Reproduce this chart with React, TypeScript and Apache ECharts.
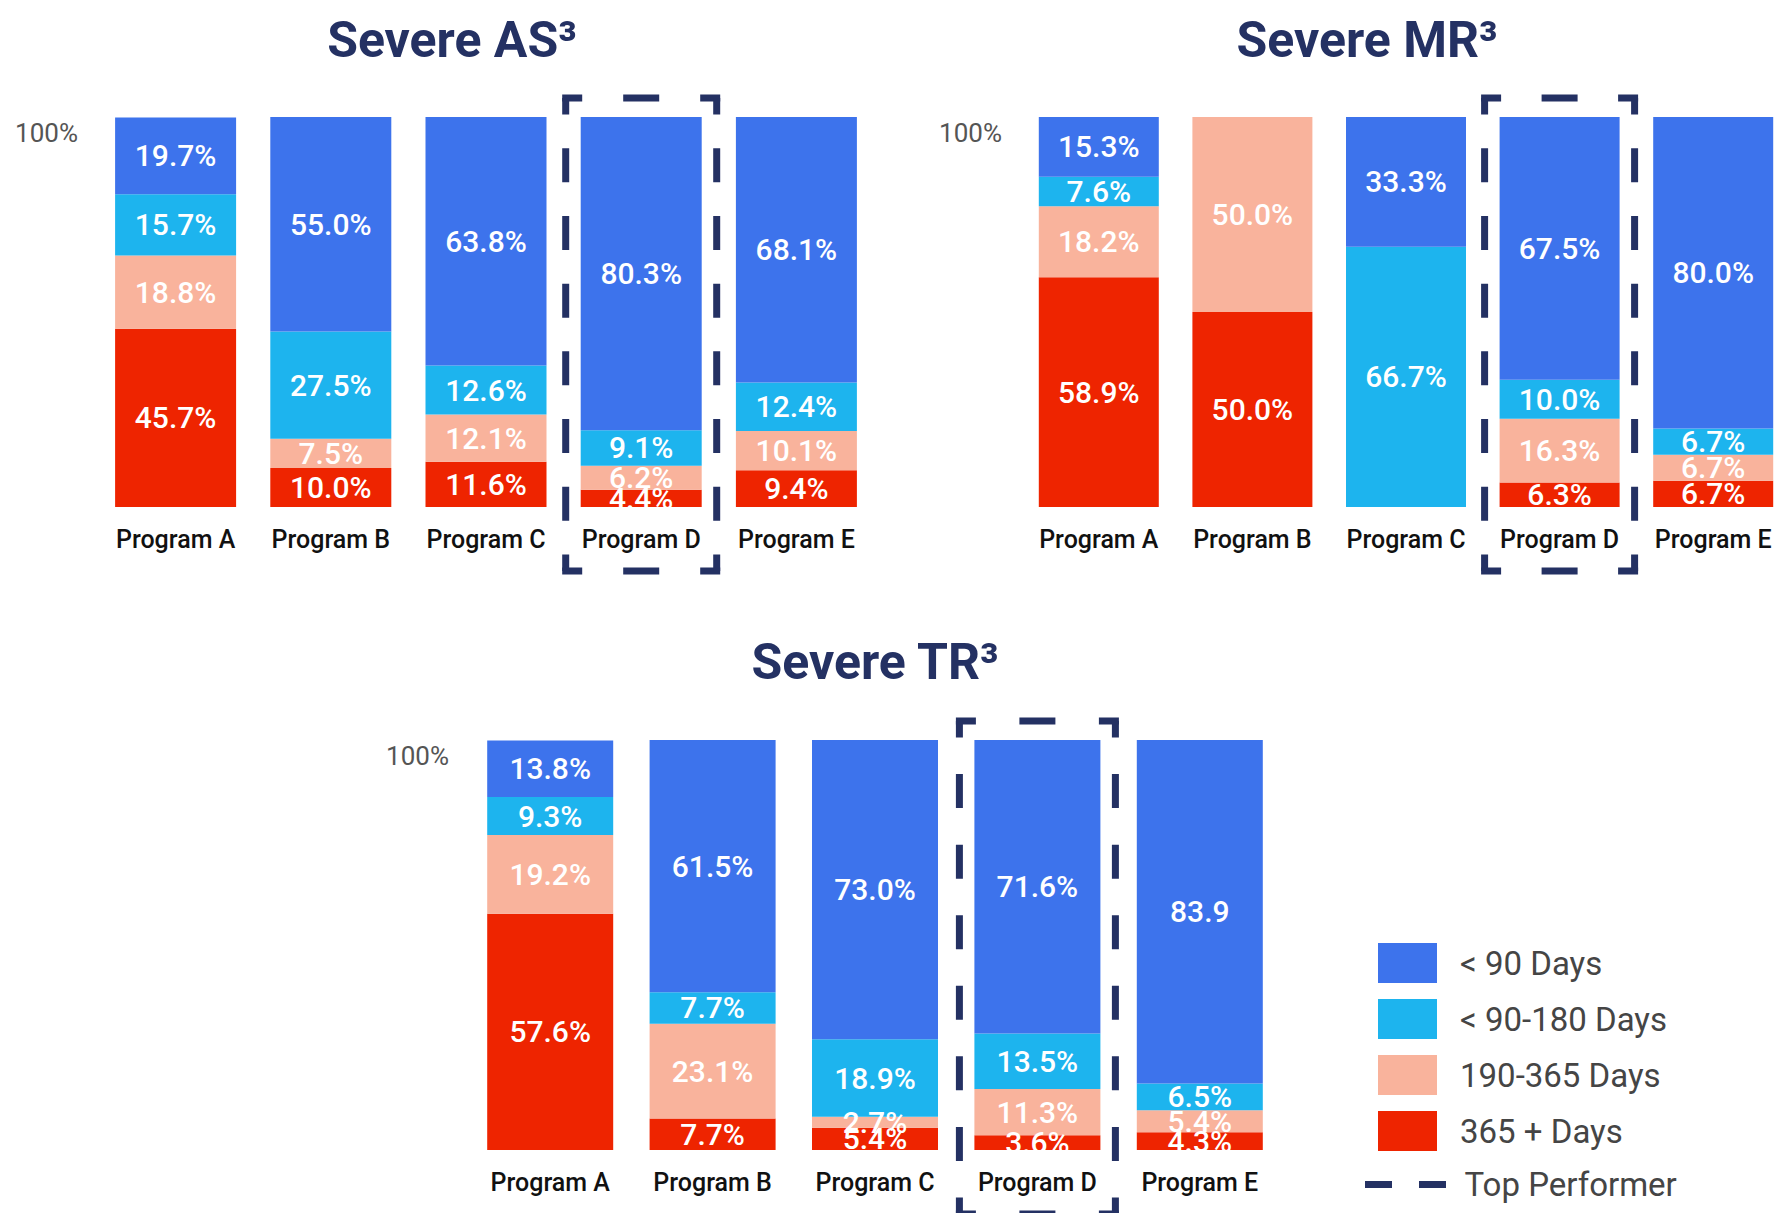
import React, { useEffect, useRef } from "react";
import * as echarts from "echarts";

// ---------- data ----------
const programs = ["Program A", "Program B", "Program C", "Program D", "Program E"];
const seriesNames = ["< 90 Days", "< 90-180 Days", "190-365 Days", "365 + Days"];
const colors = ["#3d73ec", "#1db4ee", "#f9b39c", "#ee2400"];
const titles = ["Severe AS³", "Severe MR³", "Severe TR³"];
const topPerformer = "Program D";
const topPerformerLabel = "Top Performer";

// Severe AS
const asLt90 = [19.7, 55.0, 63.8, 80.3, 68.1];
const as90to180 = [15.7, 27.5, 12.6, 9.1, 12.4];
const as190to365 = [18.8, 7.5, 12.1, 6.2, 10.1];
const as365plus = [45.7, 10.0, 11.6, 4.4, 9.4];

// Severe MR
const mrLt90 = [15.3, null, 33.3, 67.5, 80.0];
const mr90to180 = [7.6, null, 66.7, 10.0, 6.7];
const mr190to365 = [18.2, 50.0, null, 16.3, 6.7];
const mr365plus = [58.9, 50.0, null, 6.3, 6.7];

// Severe TR
const trLt90 = [13.8, 61.5, 73.0, 71.6, 83.9];
const tr90to180 = [9.3, 7.7, 18.9, 13.5, 6.5];
const tr190to365 = [19.2, 23.1, 2.7, 11.3, 5.4];
const tr365plus = [57.6, 7.7, 5.4, 3.6, 4.3];

const yMin = 0;
const yMax = 100;
// labels printed without a percent sign in the original
const labelsWithoutPercent = [{ panel: "tr", series: "< 90 Days", program: "Program E" }];

// ---------- layout / style ----------
const FONT = "Roboto, 'Noto Sans', sans-serif";
const NAVY = "#243163";

const panels = [
  {
    key: "as",
    title: titles[0],
    values: [asLt90, as90to180, as190to365, as365plus],
    grid: { left: 98, top: 117, width: 776, height: 390 },
    barWidth: 121,
    titleX: 452,
    titleY: 40,
  },
  {
    key: "mr",
    title: titles[1],
    values: [mrLt90, mr90to180, mr190to365, mr365plus],
    grid: { left: 1022, top: 117, width: 769, height: 390 },
    barWidth: 120,
    titleX: 1367,
    titleY: 40,
  },
  {
    key: "tr",
    title: titles[2],
    values: [trLt90, tr90to180, tr190to365, tr365plus],
    grid: { left: 469, top: 740, width: 812, height: 410 },
    barWidth: 126,
    titleX: 875,
    titleY: 662,
  },
];

function dashFor(len: number, corner: number, dash: number, gapTarget: number) {
  const inner = len - 2 * corner;
  const n = Math.max(0, Math.round((inner - gapTarget) / (dash + gapTarget)));
  const gap = (inner - n * dash) / (n + 1);
  const arr: number[] = [corner];
  for (let k = 0; k < n; k++) arr.push(gap, dash);
  arr.push(gap, corner, 10000);
  return arr;
}

export default function App() {
  const ref = useRef<HTMLDivElement>(null);

  useEffect(() => {
    if (!ref.current) return;
    const chart = echarts.init(ref.current, undefined, { renderer: "svg" });

    const series: any[] = [];
    panels.forEach((p, i) => {
      [3, 2, 1, 0].forEach((k) => {
        series.push({
          type: "bar",
          name: seriesNames[k],
          xAxisIndex: i,
          yAxisIndex: i,
          stack: p.key,
          barWidth: p.barWidth,
          data: p.values[k].map((v) => (v == null ? "-" : v)),
          itemStyle: { color: colors[k] },
          emphasis: { disabled: true },
          label: {
            show: true,
            position: "inside",
            color: "#ffffff",
            fontSize: 30,
            fontWeight: 500,
            fontFamily: FONT,
            formatter: (prm: any) => {
              const v = Number(prm.value);
              const plain = labelsWithoutPercent.some(
                (l) => l.panel === p.key && l.series === prm.seriesName && l.program === prm.name
              );
              return plain ? v.toFixed(1) : v.toFixed(1) + "%";
            },
          },
        });
      });
    });
    // empty series that only carries the "Top Performer" legend entry
    series.push({
      type: "line",
      name: topPerformerLabel,
      xAxisIndex: 0,
      yAxisIndex: 0,
      data: [],
      symbol: "none",
      lineStyle: { color: NAVY, width: 7, type: [27, 27] },
      itemStyle: { color: NAVY },
    });

    chart.setOption({
      animation: false,
      backgroundColor: "#ffffff",
      grid: panels.map((p) => ({ ...p.grid, containLabel: false })),
      xAxis: panels.map((p, i) => ({
        type: "category",
        gridIndex: i,
        data: programs,
        axisLine: { show: false },
        axisTick: { show: false },
        axisLabel: {
          interval: 0,
          hideOverlap: false,
          margin: 20,
          fontSize: 25,
          fontWeight: 500,
          color: "#111111",
          fontFamily: FONT,
        },
      })),
      yAxis: panels.map((p, i) => ({
        type: "value",
        gridIndex: i,
        min: yMin,
        max: yMax,
        interval: yMax - yMin,
        splitLine: { show: false },
        axisLine: { show: false },
        axisTick: { show: false },
        axisLabel: {
          formatter: (v: number) => (v === yMax ? "100%" : ""),
          fontSize: 26,
          color: "#555555",
          fontFamily: FONT,
          margin: 20,
          verticalAlign: "top",
          padding: [3, 0, 0, 0],
        },
      })),
      legend: [
        {
          left: 1373,
          top: 938,
          orient: "vertical",
          icon: "rect",
          itemWidth: 59,
          itemHeight: 40,
          itemGap: 16,
          selectedMode: false,
          data: seriesNames,
          textStyle: {
            fontSize: 33,
            color: "#454545",
            fontFamily: FONT,
            padding: [0, 0, 0, 18],
          },
        },
        {
          left: 1360,
          top: 1163,
          orient: "vertical",
          itemWidth: 82,
          itemHeight: 7,
          selectedMode: false,
          data: [
            {
              name: topPerformerLabel,
              icon: "path://M0,0H27V7H0Z M54,0H81V7H54Z",
              itemStyle: { color: NAVY },
            },
          ],
          textStyle: {
            fontSize: 33,
            color: "#454545",
            fontFamily: FONT,
            padding: [0, 0, 0, 13],
          },
        },
      ],
      series,
    });

    // Titles and top-performer dashed boxes (positions derived from the axes)
    const W = 7;
    const CORNER = 20;
    const elements: any[] = [];
    panels.forEach((p, i) => {
      elements.push({
        type: "text",
        x: p.titleX,
        y: p.titleY,
        silent: true,
        style: {
          text: p.title,
          align: "center",
          verticalAlign: "middle",
          fontSize: 50,
          fontWeight: "bold",
          fontFamily: FONT,
          fill: NAVY,
        },
      });
      const idx = programs.indexOf(topPerformer);
      const top = chart.convertToPixel({ gridIndex: i } as any, [idx, yMax]) as number[];
      const bot = chart.convertToPixel({ gridIndex: i } as any, [idx, yMin]) as number[];
      const x0 = top[0] - p.barWidth / 2 - 15;
      const x1 = top[0] + p.barWidth / 2 + 15;
      const y0 = top[1] - 19;
      const y1 = bot[1] + 64;
      const base = { stroke: NAVY, lineWidth: W, fill: "none" };
      const hLen = x1 - x0 + W;
      const vLen = y1 - y0;
      const hDash = dashFor(hLen, CORNER, 36, 38);
      const vDash = dashFor(vLen, CORNER - W / 2, 34, 34);
      elements.push(
        { type: "line", silent: true, z: 100, shape: { x1: x0 - W / 2, y1: y0, x2: x1 + W / 2, y2: y0 }, style: { ...base, lineDash: hDash } },
        { type: "line", silent: true, z: 100, shape: { x1: x0 - W / 2, y1: y1, x2: x1 + W / 2, y2: y1 }, style: { ...base, lineDash: hDash } },
        { type: "line", silent: true, z: 100, shape: { x1: x0, y1: y0, x2: x0, y2: y1 }, style: { ...base, lineDash: vDash } },
        { type: "line", silent: true, z: 100, shape: { x1: x1, y1: y0, x2: x1, y2: y1 }, style: { ...base, lineDash: vDash } }
      );
    });
    chart.setOption({ graphic: { elements } });

    return () => chart.dispose();
  }, []);

  return (
    <div
      ref={ref}
      style={{ position: "absolute", left: 0, top: 0, width: 1790, height: 1213, background: "#fff" }}
    />
  );
}
